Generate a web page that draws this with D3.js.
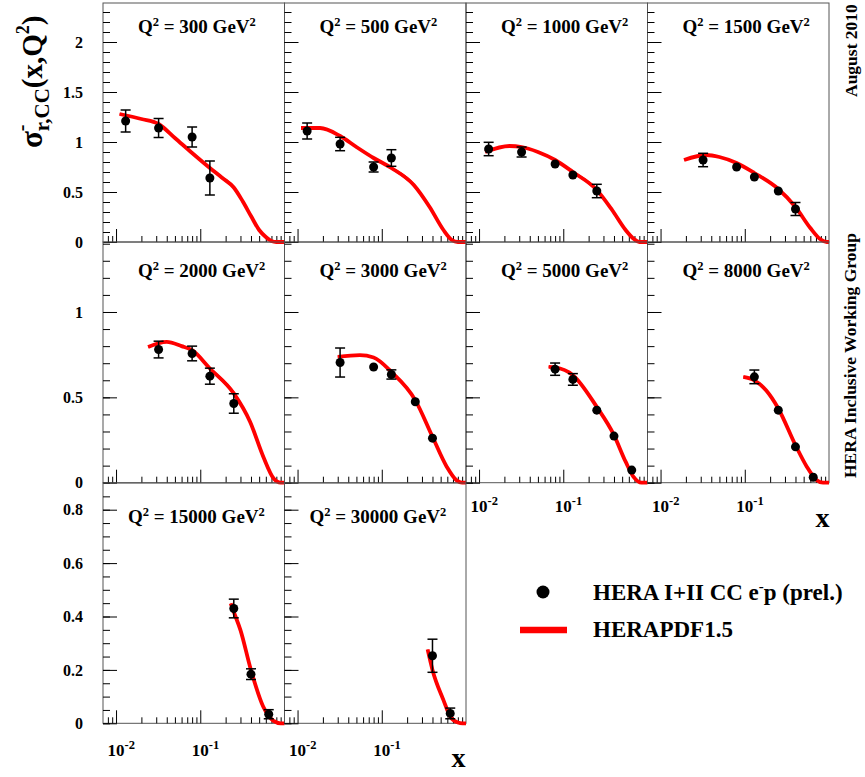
<!DOCTYPE html>
<html>
<head>
<meta charset="utf-8">
<script src="https://cdn.jsdelivr.net/npm/d3@7"></script>
<style>
  body { margin: 0; background: #fff; }
  svg { display: block; font-family: "Liberation Serif", "Times New Roman", serif; font-weight: bold; }
</style>
</head>
<body>
<svg id="chart" width="865" height="777"></svg>
<script>

// *** DATA ***

var q2_values = [300, 500, 1000, 1500, 2000, 3000, 5000, 8000, 15000, 30000]

// measured points: [x, sigma, error]
var points_300 = [[0.013, 1.21, 0.11], [0.032, 1.14, 0.095], [0.08, 1.05, 0.10], [0.13, 0.64, 0.17]]
var points_500 = [[0.013, 1.11, 0.08], [0.032, 0.98, 0.067], [0.08, 0.75, 0.05], [0.13, 0.84, 0.083]]
var points_1000 = [[0.013, 0.93, 0.067], [0.032, 0.90, 0.05], [0.08, 0.78, 0.02], [0.13, 0.67, 0.02], [0.25, 0.51, 0.067]]
var points_1500 = [[0.032, 0.82, 0.067], [0.08, 0.75, 0.02], [0.13, 0.65, 0.02], [0.25, 0.51, 0.02], [0.4, 0.33, 0.065]]
var points_2000 = [[0.032, 0.78, 0.049], [0.08, 0.757, 0.043], [0.13, 0.624, 0.047], [0.25, 0.464, 0.057]]
var points_3000 = [[0.032, 0.704, 0.085], [0.08, 0.678, 0.01], [0.13, 0.634, 0.027], [0.25, 0.474, 0.01], [0.4, 0.261, 0.01]]
var points_5000 = [[0.08, 0.665, 0.036], [0.13, 0.605, 0.034], [0.25, 0.425, 0.01], [0.4, 0.273, 0.01], [0.65, 0.074, 0.01]]
var points_8000 = [[0.13, 0.62, 0.04], [0.25, 0.425, 0.01], [0.4, 0.21, 0.01], [0.65, 0.032, 0.01]]
var points_15000 = [[0.25, 0.43, 0.035], [0.4, 0.184, 0.02], [0.65, 0.034, 0.017]]
var points_30000 = [[0.4, 0.253, 0.062], [0.65, 0.037, 0.02]]

// HERAPDF1.5 band: [x, sigma, half width]
var fit_300 = [[0.011, 1.28, 0.005], [0.02, 1.23, 0.006], [0.032, 1.18, 0.007], [0.05, 1.04, 0.008], [0.08, 0.89, 0.01],
  [0.13, 0.74, 0.014], [0.18, 0.645, 0.018], [0.25, 0.545, 0.02], [0.32, 0.405, 0.02], [0.4, 0.26, 0.016],
  [0.5, 0.12, 0.01], [0.6, 0.05, 0.005], [0.7, 0.01, 0.002], [0.8, 0, 0], [1, 0, 0]]
var fit_500 = [[0.011, 1.14, 0.005], [0.0185, 1.14, 0.006], [0.032, 1.06, 0.007], [0.05, 0.95, 0.008], [0.08, 0.84, 0.01],
  [0.13, 0.74, 0.014], [0.24, 0.57, 0.02], [0.37, 0.35, 0.018], [0.54, 0.12, 0.01], [0.68, 0.02, 0.003],
  [0.8, 0, 0], [1, 0, 0]]
var fit_1000 = [[0.0118, 0.90, 0.005], [0.023, 0.96, 0.006], [0.032, 0.95, 0.007], [0.05, 0.90, 0.008], [0.08, 0.82, 0.01],
  [0.13, 0.70, 0.014], [0.25, 0.52, 0.018], [0.38, 0.32, 0.016], [0.55, 0.12, 0.008], [0.69, 0.03, 0.003],
  [0.8, 0, 0], [1, 0, 0]]
var fit_1500 = [[0.019, 0.82, 0.005], [0.035, 0.87, 0.006], [0.05, 0.85, 0.007], [0.08, 0.79, 0.009], [0.13, 0.69, 0.012],
  [0.25, 0.53, 0.016], [0.4, 0.35, 0.015], [0.6, 0.14, 0.008], [0.79, 0.027, 0.003], [0.94, 0, 0], [1, 0, 0]]
var fit_2000 = [[0.024, 0.795, 0.004], [0.04, 0.825, 0.005], [0.06, 0.80, 0.006], [0.08, 0.776, 0.007], [0.13, 0.669, 0.01],
  [0.25, 0.523, 0.012], [0.39, 0.357, 0.011], [0.56, 0.152, 0.006], [0.74, 0.026, 0.002], [0.9, 0, 0], [1, 0, 0]]
var fit_3000 = [[0.03, 0.737, 0.004], [0.055, 0.747, 0.005], [0.08, 0.733, 0.006], [0.13, 0.649, 0.008], [0.25, 0.484, 0.01],
  [0.4, 0.269, 0.008], [0.59, 0.094, 0.004], [0.78, 0.012, 0.001], [0.9, 0, 0], [1, 0, 0]]
var fit_5000 = [[0.067, 0.678, 0.004], [0.08, 0.675, 0.005], [0.13, 0.63, 0.007], [0.25, 0.444, 0.008], [0.4, 0.279, 0.007],
  [0.55, 0.123, 0.004], [0.69, 0.031, 0.002], [0.85, 0, 0], [1, 0, 0]]
var fit_8000 = [[0.096, 0.62, 0.004], [0.13, 0.60, 0.005], [0.18, 0.54, 0.006], [0.25, 0.435, 0.007], [0.4, 0.22, 0.006],
  [0.545, 0.094, 0.004], [0.71, 0.016, 0.001], [0.85, 0, 0], [1, 0, 0]]
var fit_15000 = [[0.23, 0.449, 0.003], [0.25, 0.417, 0.003], [0.3, 0.349, 0.003], [0.4, 0.199, 0.003], [0.56, 0.062, 0.002],
  [0.74, 0.009, 0.001], [0.9, 0, 0], [1, 0, 0]]
var fit_30000 = [[0.35, 0.277, 0.003], [0.4, 0.20, 0.003], [0.54, 0.087, 0.002], [0.65, 0.025, 0.001], [0.8, 0.003, 0],
  [0.91, 0, 0], [1, 0, 0]]

var points = [points_300, points_500, points_1000, points_1500, points_2000, points_3000, points_5000, points_8000, points_15000, points_30000]
var fits = [fit_300, fit_500, fit_1000, fit_1500, fit_2000, fit_3000, fit_5000, fit_8000, fit_15000, fit_30000]

// axes per row
var row_y_max = [2.39, 1.41, 0.9]
var row_major_ticks = [[0, 0.5, 1, 1.5, 2], [0, 0.5, 1], [0, 0.2, 0.4, 0.6, 0.8]]
var row_minor_step = [0.1, 0.1, 0.05]
var x_domain = [0.007, 1]
var x_major_ticks = [0.01, 0.1]
var x_major_exp = ["-2", "-1"]
var x_decades = [0.001, 0.01, 0.1]

var legend_labels = ["HERA I+II CC e", "HERAPDF1.5"]


// *** LAYOUT ***

var svg = d3.select("#chart")
var panel_left = 103, panel_w = 181.5
var row_top = [3, 242, 483]
var row_bottom = [242, 482.7, 723.3]
var title_base = [33, 277, 523]
var title_off = [35, 35, 25]
var red = "#ff0000"

var x_minor = []
x_decades.forEach(function(d){
  for (var k = 2; k < 10; k++) {
    var v = k * d
    if (v > x_domain[0] && v < x_domain[1]) x_minor.push(v)
  }
})

q2_values.forEach(function(q2, i){
  var row = Math.floor(i / 4), col = i % 4
  var left = panel_left + col * panel_w
  var top = row_top[row], bottom = row_bottom[row]

  var x = d3.scaleLog().domain(x_domain).range([left, left + panel_w])
  var y = d3.scaleLinear().domain([0, row_y_max[row]]).range([bottom, top])

  var g = svg.append("g")

  // frame
  g.append("rect")
      .attr("x", left).attr("y", top)
      .attr("width", panel_w).attr("height", bottom - top)
      .attr("fill", "none").attr("stroke", "#555").attr("stroke-width", 1)

  // ticks (inward)
  var minor_y = d3.range(0, row_y_max[row], row_minor_step[row])
  var axes = [
    d3.axisLeft(y).tickValues(minor_y).tickSize(-7).tickFormat(""),
    d3.axisLeft(y).tickValues(row_major_ticks[row]).tickSize(-14).tickFormat("")
  ]
  axes.forEach(function(ax){
    g.append("g").attr("transform", "translate(" + left + ",0)").call(ax)
  })
  g.append("g").attr("transform", "translate(0," + bottom + ")")
      .call(d3.axisBottom(x).tickValues(x_minor).tickSize(-6).tickFormat(""))
  g.append("g").attr("transform", "translate(0," + bottom + ")")
      .call(d3.axisBottom(x).tickValues(x_major_ticks).tickSize(-13).tickFormat(""))
  g.selectAll(".domain").remove()
  g.selectAll(".tick line").attr("stroke", "#000").attr("stroke-width", 1)

  // y tick labels on the first column
  if (col == 0) {
    g.selectAll(".ylab")
        .data(row_major_ticks[row])
      .enter().append("text")
        .attr("x", 83).attr("y", function(d){ return y(d) })
        .attr("dy", "0.35em")
        .attr("text-anchor", "end")
        .style("font-size", "16px")
        .text(function(d){ return String(d) })
  }

  // x tick labels under the lowest panels
  if (i >= 6) {
    var base = bottom + (row == 2 ? 32.5 : 29)
    x_major_ticks.forEach(function(v, k){
      g.append("text").attr("x", x(v)).attr("y", base)
          .attr("text-anchor", "middle").style("font-size", "17px").text("10")
      g.append("text").attr("x", x(v) + 8.5).attr("y", base - 7)
          .style("font-size", "12.5px").text(x_major_exp[k])
    })
  }

  // title
  var title = g.append("text")
      .attr("x", left + title_off[row]).attr("y", title_base[row])
      .style("font-size", "19px")
  title.append("tspan").text("Q")
  title.append("tspan").attr("dy", -7).style("font-size", "12.5px").text("2")
  title.append("tspan").attr("dy", 7).text(" = " + q2 + " GeV")
  title.append("tspan").attr("dy", -7).style("font-size", "12.5px").text("2")

  // HERAPDF1.5 band
  var fit = fits[i]
  g.append("path")
      .datum(fit)
      .attr("fill", red)
      .attr("d", d3.area()
        .x(function(d){ return x(d[0]) })
        .y0(function(d){ return y(d[1] - d[2]) })
        .y1(function(d){ return y(d[1] + d[2]) })
        .curve(d3.curveMonotoneX))
  g.append("path")
      .datum(fit)
      .attr("fill", "none").attr("stroke", red).attr("stroke-width", 3.8)
      .attr("d", d3.line()
        .x(function(d){ return x(d[0]) })
        .y(function(d){ return y(d[1]) })
        .curve(d3.curveMonotoneX))

  // data points with error bars
  var r = 4.5
  points[i].forEach(function(d){
    var cx = x(d[0]), cy = y(d[1])
    var hi = y(d[1] + d[2]), lo = y(d[1] - d[2])
    if (cy - hi > r * 0.9) {
      g.append("line").attr("x1", cx).attr("x2", cx).attr("y1", hi).attr("y2", lo)
          .attr("stroke", "#000").attr("stroke-width", 1.5)
      ;[hi, lo].forEach(function(yy){
        g.append("line").attr("x1", cx - 5).attr("x2", cx + 5).attr("y1", yy).attr("y2", yy)
            .attr("stroke", "#000").attr("stroke-width", 1.5)
      })
    }
    g.append("circle").attr("cx", cx).attr("cy", cy).attr("r", r).attr("fill", "#000")
  })
})

// x axis titles
;[[458.5, 767], [822.5, 527]].forEach(function(p){
  svg.append("text").attr("x", p[0]).attr("y", p[1])
      .attr("text-anchor", "middle").style("font-size", "28px").text("x")
})

// y axis title, pieces laid out along the rotated baseline
var ylab = svg.append("g").attr("transform", "translate(42,148) rotate(-90)")
var pos = 0
function piece(txt, size, dy, advance){
  var t = ylab.append("text").attr("x", pos).attr("y", dy).style("font-size", size + "px").text(txt)
  var w = t.node().getComputedTextLength()
  if (advance) pos += w
  return w
}
piece("\u03c3", 31, 0, true)
piece("-", 20, -14, false)
piece("r,CC", 21, 7, true)
piece("(x,Q", 29, 0, true)
piece("2", 18, -13, true)
piece(")", 29, 0, true)

// side labels
svg.append("text").attr("transform", "translate(857,97) rotate(-90)")
    .style("font-size", "17.5px").text("August 2010")
svg.append("text").attr("transform", "translate(856,478) rotate(-90)")
    .style("font-size", "17.5px").text("HERA Inclusive Working Group")

// legend
svg.append("circle").attr("cx", 543).attr("cy", 592).attr("r", 6.5).attr("fill", "#000")
svg.append("line").attr("x1", 520).attr("x2", 567).attr("y1", 630).attr("y2", 630)
    .attr("stroke", red).attr("stroke-width", 6.5)
var l1 = svg.append("text").attr("x", 593).attr("y", 600).style("font-size", "23px")
l1.append("tspan").text(legend_labels[0])
l1.append("tspan").attr("dy", -9).style("font-size", "15px").text("-")
l1.append("tspan").attr("dy", 9).text("p (prel.)")
svg.append("text").attr("x", 593).attr("y", 637).style("font-size", "23px").text(legend_labels[1])

</script>
</body>
</html>
